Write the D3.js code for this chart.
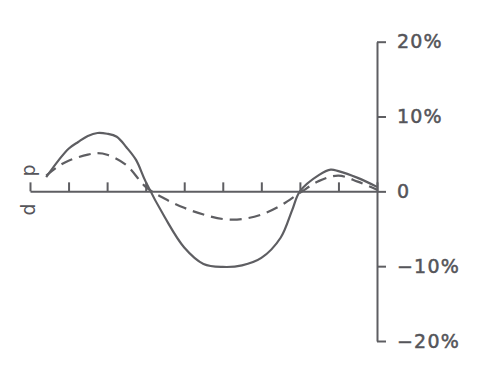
<!DOCTYPE html>
<html><head><meta charset="utf-8">
<script src="https://cdn.jsdelivr.net/npm/d3@7"></script>
<style>body{margin:0;background:#fff}svg{display:block}</style>
</head><body>
<script>
// x positions in tick units (0..9), values in percent
const solidX = [0.42,0.75,1.0,1.25,1.5,1.75,2.0,2.25,2.5,2.75,3.0,3.5,4.0,4.5,5.0,5.5,6.0,6.5,6.8,7.0,7.5,7.8,8.0,8.5,9.0];
const solidY = [1.9,4.2,5.7,6.6,7.4,7.8,7.7,7.3,5.9,4.2,1.3,-3.5,-7.5,-9.7,-10.1,-9.9,-8.9,-6.2,-2.5,0,2.2,2.9,2.7,1.8,0.6];
const dashX = [0.42,0.75,1.0,1.5,1.75,2.0,2.5,3.0,3.5,4.0,4.5,5.0,5.5,6.0,6.5,7.0,7.5,8.0,8.5,9.0];
const dashY = [2.1,3.4,4.1,4.9,5.1,4.9,3.5,0.6,-1.0,-2.2,-3.1,-3.7,-3.7,-3.1,-1.9,-0.2,1.4,2.1,1.3,0.2];
const xTicks = [0,1,2,3,4,5,6,7,8,9];
const yTicks = [20,10,0,-10,-20];
const yTickLabels = ["20%","10%","0","\u221210%","\u221220%"];

const W = 489, H = 376;
const svg = d3.select("body").append("svg").attr("width", W).attr("height", H);
const x = d3.scaleLinear().domain([0,9]).range([30,377]);
const y = d3.scaleLinear().domain([-20,20]).range([341,41.7]);
const col = "#5e5e62";
const tcol = "#55555a";

// right axis
const yAxis = d3.axisRight(y).tickValues(yTicks).tickSize(9).tickSizeOuter(0).tickPadding(11)
  .tickFormat((d,i)=>yTickLabels[i]);
const ga = svg.append("g").attr("transform",`translate(${x(9)},0)`).call(yAxis);
ga.select(".domain").attr("stroke",col).attr("stroke-width",2);
ga.selectAll(".tick line").attr("stroke",col).attr("stroke-width",2);
ga.selectAll(".tick text").attr("fill",tcol).attr("stroke",tcol).attr("stroke-width",0.5)
  .attr("font-family","DejaVu Sans").attr("font-size",19).attr("letter-spacing",1.2);

// x axis at zero
const xAxis = d3.axisTop(x).tickValues(xTicks).tickSize(9).tickSizeOuter(0).tickFormat("");
const gx = svg.append("g").attr("transform",`translate(0,${y(0)})`).call(xAxis);
gx.select(".domain").attr("stroke",col).attr("stroke-width",2);
gx.selectAll(".tick line").attr("stroke",col).attr("stroke-width",2);

// lines
const line = d3.line().x(d=>x(d[0])).y(d=>y(d[1])).curve(d3.curveCatmullRom.alpha(0.5));
svg.append("path").datum(solidX.map((v,i)=>[v,solidY[i]]))
  .attr("d",line).attr("fill","none").attr("stroke",col).attr("stroke-width",2.2);
svg.append("path").datum(dashX.map((v,i)=>[v,dashY[i]]))
  .attr("d",line).attr("fill","none").attr("stroke",col).attr("stroke-width",2.2)
  .attr("stroke-dasharray","12,7");

// left label
svg.append("text").attr("transform",`translate(35,${y(0)-21}) rotate(-90)`)
  .attr("text-anchor","middle").attr("font-family","DejaVu Sans").attr("font-size",19)
  .attr("fill",tcol).text("p");
svg.append("text").attr("transform",`translate(35,${y(0)+18}) rotate(-90)`)
  .attr("text-anchor","middle").attr("font-family","DejaVu Sans").attr("font-size",19)
  .attr("fill",tcol).text("d");
</script>
</body></html>
